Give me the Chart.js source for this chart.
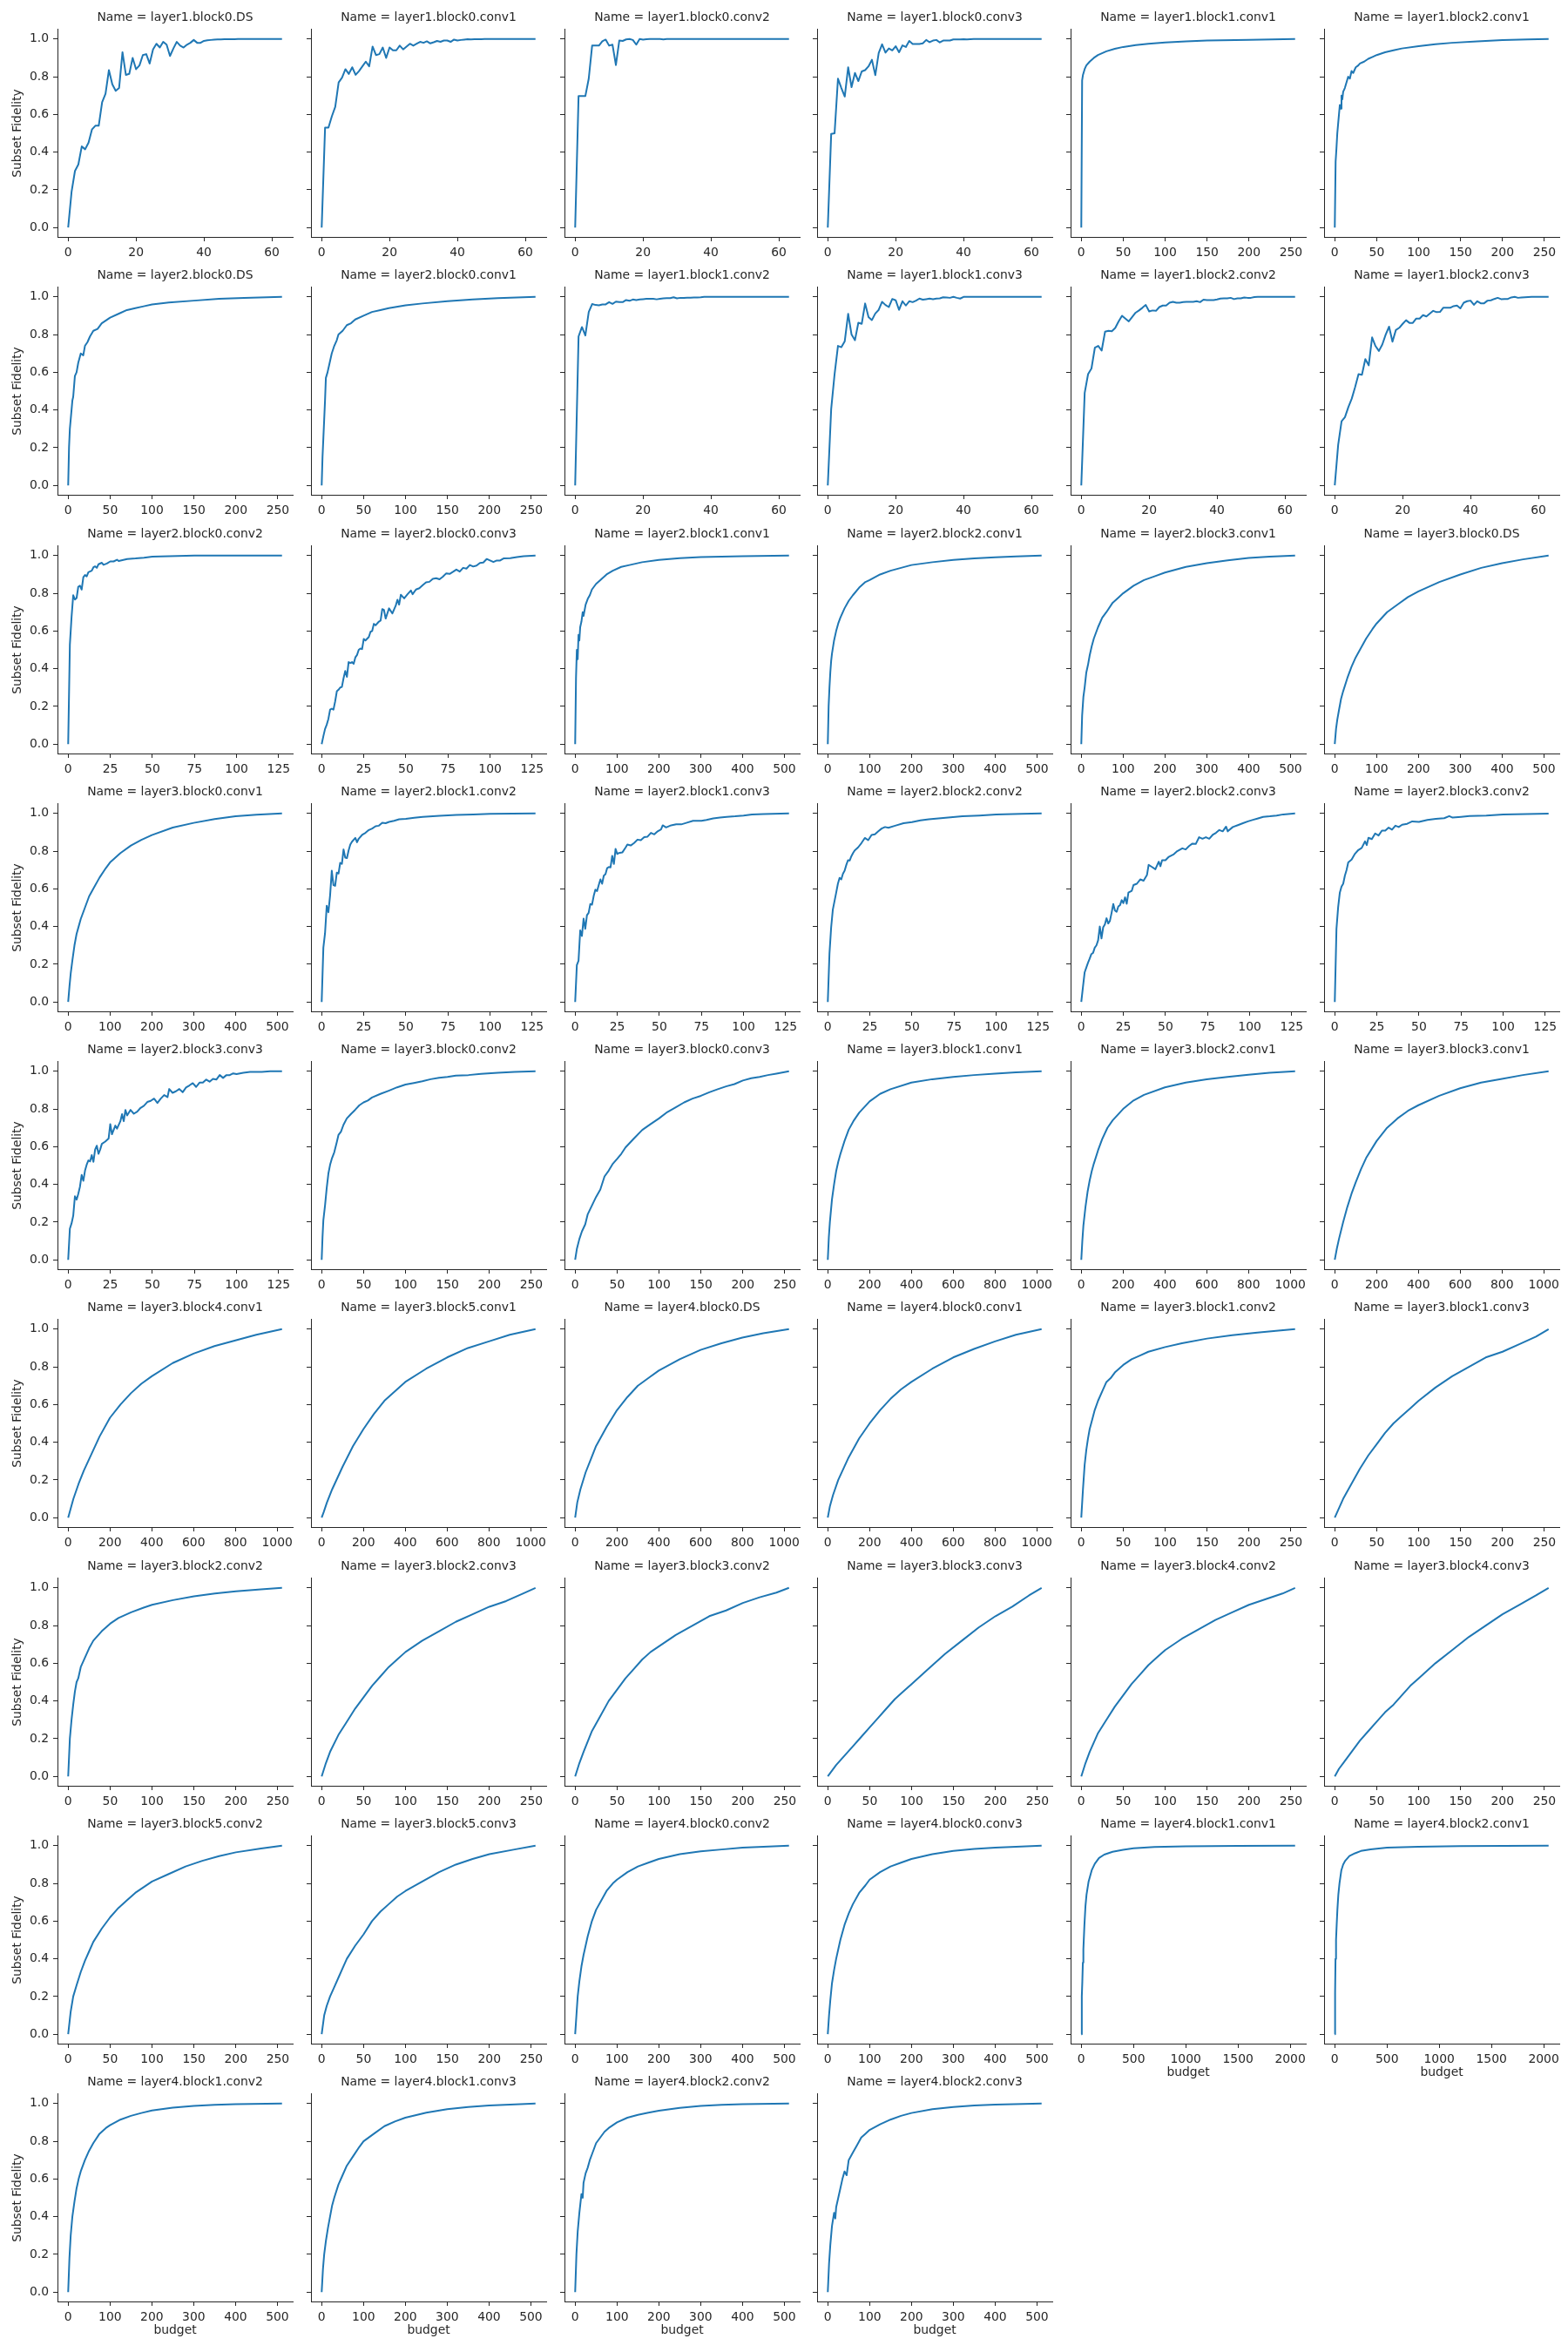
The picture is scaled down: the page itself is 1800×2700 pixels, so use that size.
<!DOCTYPE html>
<html>
<head>
<meta charset="utf-8">
<script src="https://cdn.jsdelivr.net/npm/chart.js@4.4.1/dist/chart.umd.min.js"></script>
<style>
  html, body { margin: 0; padding: 0; background: #fff; }
  #grid { position: relative; width: 1800px; height: 2700px; }
  #grid canvas { position: absolute; }
</style>
</head>
<body>
<div id="grid"></div>
<script>
// facet titles, in the order they appear (6 per row)
const panelNames = [
  "layer1.block0.DS", "layer1.block0.conv1", "layer1.block0.conv2", "layer1.block0.conv3", "layer1.block1.conv1", "layer1.block2.conv1",
  "layer2.block0.DS", "layer2.block0.conv1", "layer1.block1.conv2", "layer1.block1.conv3", "layer1.block2.conv2", "layer1.block2.conv3",
  "layer2.block0.conv2", "layer2.block0.conv3", "layer2.block1.conv1", "layer2.block2.conv1", "layer2.block3.conv1", "layer3.block0.DS",
  "layer3.block0.conv1", "layer2.block1.conv2", "layer2.block1.conv3", "layer2.block2.conv2", "layer2.block2.conv3", "layer2.block3.conv2",
  "layer2.block3.conv3", "layer3.block0.conv2", "layer3.block0.conv3", "layer3.block1.conv1", "layer3.block2.conv1", "layer3.block3.conv1",
  "layer3.block4.conv1", "layer3.block5.conv1", "layer4.block0.DS", "layer4.block0.conv1", "layer3.block1.conv2", "layer3.block1.conv3",
  "layer3.block2.conv2", "layer3.block2.conv3", "layer3.block3.conv2", "layer3.block3.conv3", "layer3.block4.conv2", "layer3.block4.conv3",
  "layer3.block5.conv2", "layer3.block5.conv3", "layer4.block0.conv2", "layer4.block0.conv3", "layer4.block1.conv1", "layer4.block2.conv1",
  "layer4.block1.conv2", "layer4.block1.conv3", "layer4.block2.conv2", "layer4.block2.conv3"
];

const yTicks = [0, 0.2, 0.4, 0.6, 0.8, 1.0];
const xTicks63 = [0, 20, 40, 60];
const xTicks127 = [0, 25, 50, 75, 100, 125];
const xTicks255 = [0, 50, 100, 150, 200, 250];
const xTicks511 = [0, 100, 200, 300, 400, 500];
const xTicks1023 = [0, 200, 400, 600, 800, 1000];
const xTicks2047 = [0, 500, 1000, 1500, 2000];

// small panels (budget 0..63): one fidelity value per budget step
// bigger panels: [budget, fidelity] pairs
const panelCurves = [
  // layer1.block0.DS
  [0,0.19,0.30,0.335,0.43,0.415,0.45,0.52,0.54,0.54, 0.665,0.71,0.835,0.76,0.725,0.74,0.93,0.81,0.815,0.90,
   0.84,0.86,0.915,0.92,0.87,0.945,0.975,0.955,0.985,0.97, 0.91,0.95,0.985,0.965,0.955,0.97,0.98,0.995,0.98,0.98,
   0.99,0.993,0.995,0.997,0.998,0.998,0.999,0.999,0.999,0.999, 1,1,1,1,1,1,1,1,1,1, 1,1,1,1],
  // layer1.block0.conv1
  [0,0.53,0.53,0.59,0.64,0.77,0.795,0.84,0.815,0.85, 0.81,0.83,0.855,0.88,0.855,0.96,0.915,0.92,0.955,0.90,
   0.955,0.94,0.94,0.965,0.945,0.96,0.975,0.965,0.975,0.985, 0.98,0.988,0.977,0.983,0.99,0.985,0.992,0.992,0.985,0.997,
   0.992,0.995,0.997,0.999,0.998,0.999,0.999,0.999,1,1, 1,1,1,1,1,1,1,1,1,1, 1,1,1,1],
  // layer1.block0.conv2
  [0,0.697,0.697,0.697,0.79,0.965,0.965,0.965,0.988,0.997, 0.965,0.97,0.862,0.992,0.99,0.998,1,0.995,0.97,1,
   0.997,0.999,1,1,1,1,0.998,1,1,1, 1,1,1,1,1,1,1,1,1,1, 1,1,1,1,1,1,1,1,1,1, 1,1,1,1,1,1,1,1,1,1, 1,1,1,1],
  // layer1.block0.conv3
  [0,0.497,0.50,0.79,0.74,0.695,0.85,0.745,0.82,0.777, 0.828,0.835,0.855,0.89,0.808,0.926,0.972,0.928,0.95,0.94,
   0.962,0.93,0.966,0.958,0.99,0.974,0.974,0.974,0.977,0.995, 0.983,0.992,0.995,0.982,0.992,0.992,0.992,0.998,0.998,0.998,
   0.999,0.998,0.999,1,1,1,1,1,1,1, 1,1,1,1,1,1,1,1,1,1, 1,1,1,1],
  // layer1.block1.conv1
  [[0,0],[1,0.78],[2,0.81],[4,0.84],[6,0.86],[10,0.88],[15,0.9],[20,0.915],[30,0.935],[40,0.948],[50,0.958],[65,0.968],
   [80,0.975],[100,0.982],[125,0.988],[150,0.992],[200,0.996],[255,1]],
  // layer1.block2.conv1
  [[0,0],[1,0.35],[2,0.42],[3,0.5],[4,0.55],[5,0.6],[6,0.65],[7,0.63],[8,0.7],[9,0.68],[10,0.72],[12,0.74],[14,0.77],
   [16,0.8],[18,0.79],[20,0.83],[22,0.82],[25,0.85],[28,0.86],[30,0.87],[35,0.88],[40,0.895],[45,0.905],[50,0.915],
   [60,0.93],[70,0.94],[80,0.95],[100,0.962],[120,0.972],[140,0.98],[170,0.988],[200,0.994],[230,0.998],[255,1]],
  // layer2.block0.DS
  [[0,0],[1,0.2],[2,0.3],[3,0.35],[5,0.45],[6,0.47],[8,0.58],[10,0.6],[12,0.65],[15,0.7],[18,0.69],[20,0.74],[23,0.76],
   [26,0.79],[30,0.82],[35,0.83],[40,0.86],[45,0.875],[50,0.89],[60,0.91],[70,0.93],[80,0.94],[90,0.95],[100,0.96],
   [120,0.97],[150,0.98],[180,0.99],[210,0.995],[255,1]],
  // layer2.block0.conv1
  [[0,0],[1,0.15],[2,0.25],[3,0.35],[4,0.45],[5,0.57],[7,0.6],[9,0.64],[12,0.7],[15,0.74],[18,0.77],[20,0.8],[25,0.82],
   [30,0.85],[35,0.86],[40,0.88],[50,0.9],[60,0.92],[70,0.93],[80,0.94],[100,0.955],[120,0.965],[150,0.977],[180,0.986],
   [210,0.993],[255,1]],
  // layer1.block1.conv2
  [0,0.79,0.84,0.795,0.92,0.962,0.957,0.955,0.96,0.96, 0.972,0.963,0.975,0.972,0.972,0.983,0.979,0.986,0.983,0.986,
   0.988,0.99,0.99,0.99,0.987,0.99,0.992,0.993,0.993,0.998, 0.992,0.995,0.995,0.996,0.996,0.997,0.997,0.998,1,1,
   1,1,1,1,1,1,1,1,1,1, 1,1,1,1,1,1,1,1,1,1, 1,1,1,1],
  // layer1.block1.conv3
  [0,0.405,0.59,0.74,0.733,0.765,0.91,0.80,0.77,0.863, 0.857,0.965,0.893,0.877,0.912,0.931,0.974,0.957,0.946,0.989,
   0.982,0.931,0.977,0.954,0.977,0.972,0.98,0.991,0.985,0.988, 0.991,0.988,0.991,0.992,0.998,0.997,0.995,1,0.995,0.991,
   1,1,1,1,1,1,1,1,1,1, 1,1,1,1,1,1,1,1,1,1, 1,1,1,1],
  // layer1.block2.conv2
  [0,0.49,0.59,0.62,0.73,0.74,0.715,0.815,0.82,0.818, 0.835,0.87,0.90,0.885,0.87,0.893,0.916,0.928,0.942,0.957,
   0.923,0.928,0.926,0.946,0.954,0.954,0.969,0.974,0.969,0.969, 0.972,0.974,0.974,0.974,0.977,0.972,0.985,0.983,0.983,0.983,
   0.986,0.991,0.992,0.992,0.995,0.988,0.992,0.992,0.997,0.995, 0.995,0.999,1,1,1,1,1,1,1,1, 1,1,1,1],
  // layer1.block2.conv3
  [0,0.215,0.34,0.362,0.415,0.46,0.522,0.59,0.587,0.67, 0.637,0.785,0.739,0.713,0.747,0.80,0.842,0.762,0.824,0.836,
   0.857,0.876,0.862,0.862,0.885,0.885,0.903,0.896,0.911,0.926, 0.919,0.92,0.943,0.942,0.942,0.951,0.954,0.939,0.969,0.977,
   0.98,0.958,0.977,0.966,0.966,0.98,0.982,0.989,0.995,0.988, 0.989,0.989,0.997,1,0.995,0.997,0.998,0.999,1,1, 1,1,1,1],
  // layer2.block0.conv2
  [[0,0],[1,0.527],[2,0.674],[3,0.79],[4,0.767],[5,0.775],[6,0.835],[7,0.84],[8,0.82],[9,0.885],[10,0.897],[11,0.89],
   [12,0.912],[14,0.92],[15,0.938],[16,0.943],[17,0.935],[18,0.954],[20,0.962],[21,0.951],[23,0.958],[25,0.969],[27,0.969],
   [29,0.978],[30,0.971],[35,0.982],[40,0.985],[45,0.989],[50,0.994],[60,0.997],[75,1],[90,1],[127,1]],
  // layer2.block0.conv3
  [[0,0],[1,0.042],[2,0.08],[3,0.103],[4,0.134],[5,0.183],[6,0.188],[7,0.183],[8,0.226],[9,0.28],[10,0.288],[11,0.3],
   [12,0.303],[13,0.35],[14,0.388],[15,0.357],[16,0.435],[17,0.43],[18,0.435],[19,0.426],[20,0.46],[21,0.473],[22,0.5],
   [23,0.507],[24,0.504],[25,0.558],[26,0.55],[28,0.568],[29,0.596],[30,0.6],[31,0.638],[32,0.63],[34,0.65],[35,0.655],
   [36,0.716],[37,0.712],[38,0.666],[39,0.693],[40,0.72],[42,0.693],[44,0.735],[45,0.766],[46,0.74],[47,0.792],[49,0.773],
   [51,0.795],[53,0.815],[54,0.795],[56,0.82],[58,0.827],[60,0.843],[62,0.858],[64,0.861],[66,0.877],[68,0.88],[70,0.874],
   [72,0.888],[74,0.906],[76,0.903],[78,0.914],[80,0.926],[82,0.915],[84,0.935],[86,0.931],[88,0.95],[90,0.942],[92,0.947],
   [94,0.961],[96,0.963],[98,0.982],[100,0.974],[102,0.966],[104,0.974],[106,0.974],[108,0.985],[112,0.986],[116,0.992],
   [120,0.997],[127,1]],
  // layer2.block1.conv1
  [[0,0],[2,0.35],[4,0.5],[6,0.45],[8,0.58],[10,0.55],[12,0.62],[15,0.65],[18,0.7],[20,0.68],[25,0.74],[30,0.77],[35,0.79],
   [40,0.82],[50,0.85],[60,0.87],[75,0.9],[90,0.92],[110,0.94],[130,0.95],[160,0.965],[200,0.977],[250,0.986],[300,0.992],
   [400,0.997],[511,1]],
  // layer2.block2.conv1
  [[0,0],[2,0.2],[4,0.3],[6,0.38],[8,0.44],[10,0.48],[15,0.55],[20,0.6],[25,0.64],[30,0.67],[40,0.72],[50,0.76],[60,0.79],
   [75,0.83],[90,0.86],[100,0.87],[125,0.9],[150,0.92],[175,0.935],[200,0.95],[250,0.965],[300,0.977],[350,0.985],
   [400,0.991],[450,0.996],[511,1]],
  // layer2.block3.conv1
  [[0,0],[2,0.15],[5,0.25],[8,0.3],[12,0.38],[16,0.42],[20,0.47],[25,0.52],[30,0.56],[40,0.62],[50,0.67],[60,0.7],[75,0.75],
   [90,0.78],[100,0.8],[125,0.84],[150,0.87],[175,0.89],[200,0.91],[250,0.94],[300,0.96],[350,0.975],[400,0.987],
   [450,0.994],[511,1]],
  // layer3.block0.DS
  [[0,0],[3,0.08],[6,0.13],[10,0.18],[15,0.24],[20,0.28],[30,0.35],[40,0.41],[50,0.46],[60,0.5],[75,0.56],[90,0.61],
   [100,0.64],[125,0.7],[150,0.74],[175,0.78],[200,0.81],[250,0.86],[300,0.9],[350,0.935],[400,0.96],[450,0.98],[511,1]],
  // layer3.block0.conv1
  [[0,0],[3,0.08],[6,0.15],[10,0.22],[15,0.3],[20,0.36],[25,0.4],[30,0.44],[40,0.5],[50,0.56],[60,0.6],[75,0.66],[90,0.71],
   [100,0.74],[125,0.79],[150,0.83],[175,0.86],[200,0.885],[250,0.925],[300,0.95],[350,0.97],[400,0.985],[450,0.993],[511,1]],
  // layer2.block1.conv2
  [[0,0],[1,0.288],[2,0.365],[3,0.51],[4,0.476],[5,0.565],[6,0.696],[7,0.62],[8,0.616],[9,0.686],[10,0.681],[11,0.738],
   [12,0.732],[13,0.809],[14,0.766],[15,0.763],[16,0.804],[17,0.835],[18,0.85],[20,0.87],[21,0.847],[22,0.866],[24,0.886],
   [26,0.897],[28,0.912],[30,0.92],[32,0.932],[34,0.935],[36,0.951],[38,0.948],[40,0.955],[43,0.961],[46,0.969],[50,0.971],
   [55,0.977],[60,0.982],[70,0.988],[80,0.992],[90,0.995],[100,0.998],[127,1]],
  // layer2.block1.conv3
  [[0,0],[1,0.196],[2,0.219],[3,0.38],[4,0.35],[5,0.442],[6,0.388],[7,0.46],[8,0.473],[9,0.52],[10,0.516],[11,0.562],
   [12,0.596],[13,0.588],[14,0.62],[15,0.65],[16,0.627],[17,0.67],[18,0.678],[19,0.71],[20,0.716],[21,0.714],[22,0.775],
   [23,0.732],[24,0.812],[25,0.785],[26,0.79],[28,0.793],[30,0.82],[31,0.835],[33,0.83],[35,0.843],[37,0.861],[39,0.858],
   [41,0.874],[43,0.877],[45,0.897],[47,0.889],[49,0.905],[51,0.915],[52,0.937],[54,0.926],[57,0.937],[60,0.942],[63,0.942],
   [66,0.95],[70,0.961],[75,0.961],[78,0.966],[82,0.974],[86,0.978],[90,0.982],[95,0.985],[100,0.989],[105,0.994],
   [112,0.997],[127,1]],
  // layer2.block2.conv2
  [[0,0],[1,0.257],[2,0.396],[3,0.49],[4,0.535],[5,0.58],[6,0.627],[7,0.658],[8,0.65],[9,0.68],[10,0.696],[11,0.727],
   [12,0.752],[13,0.75],[14,0.773],[15,0.79],[16,0.804],[18,0.82],[20,0.843],[22,0.87],[24,0.858],[26,0.886],[28,0.889],
   [30,0.905],[32,0.92],[34,0.928],[36,0.924],[40,0.935],[45,0.948],[50,0.954],[55,0.963],[60,0.969],[70,0.977],[80,0.985],
   [90,0.989],[100,0.994],[115,0.998],[127,1]],
  // layer2.block2.conv3
  [[0,0],[1,0.08],[2,0.157],[3,0.183],[4,0.208],[5,0.23],[6,0.254],[7,0.26],[8,0.288],[9,0.3],[10,0.327],[11,0.4],
   [12,0.337],[13,0.396],[14,0.411],[15,0.444],[16,0.416],[17,0.43],[18,0.473],[19,0.52],[20,0.485],[21,0.478],[22,0.507],
   [23,0.513],[24,0.54],[25,0.524],[26,0.555],[27,0.521],[28,0.58],[30,0.59],[31,0.62],[33,0.627],[35,0.65],[37,0.643],
   [39,0.673],[40,0.727],[42,0.716],[44,0.704],[46,0.744],[47,0.72],[48,0.752],[50,0.752],[52,0.77],[55,0.784],[57,0.8],
   [60,0.815],[62,0.809],[64,0.827],[66,0.84],[68,0.838],[70,0.874],[72,0.866],[74,0.874],[76,0.866],[78,0.886],[80,0.897],
   [82,0.912],[84,0.905],[86,0.93],[87,0.905],[90,0.928],[93,0.938],[96,0.948],[99,0.958],[102,0.966],[105,0.974],
   [108,0.982],[112,0.985],[116,0.989],[120,0.995],[127,1]],
  // layer2.block3.conv2
  [[0,0],[1,0.388],[2,0.503],[3,0.58],[4,0.612],[5,0.627],[6,0.67],[7,0.7],[8,0.74],[10,0.755],[12,0.786],[14,0.806],
   [16,0.817],[18,0.852],[19,0.832],[20,0.871],[22,0.864],[24,0.894],[26,0.883],[28,0.909],[30,0.909],[32,0.925],[34,0.914],
   [36,0.935],[38,0.928],[40,0.94],[43,0.945],[46,0.958],[50,0.955],[55,0.966],[60,0.971],[65,0.975],[68,0.986],[70,0.978],
   [75,0.982],[80,0.986],[90,0.989],[100,0.994],[127,0.999]],
  // layer2.block3.conv3
  [[0,0],[1,0.165],[2,0.193],[3,0.234],[4,0.337],[5,0.319],[6,0.35],[7,0.388],[8,0.45],[9,0.419],[10,0.473],[11,0.505],
   [12,0.527],[13,0.522],[14,0.555],[15,0.52],[16,0.585],[17,0.605],[18,0.562],[19,0.585],[20,0.615],[22,0.627],[24,0.643],
   [25,0.72],[26,0.666],[28,0.712],[29,0.696],[31,0.735],[32,0.773],[33,0.735],[34,0.795],[35,0.766],[37,0.795],[39,0.775],
   [41,0.786],[43,0.806],[45,0.817],[47,0.837],[49,0.843],[51,0.855],[53,0.832],[55,0.855],[57,0.874],[59,0.863],[60,0.906],
   [62,0.886],[64,0.894],[66,0.906],[68,0.889],[70,0.914],[72,0.925],[74,0.937],[76,0.917],[78,0.94],[80,0.94],[82,0.956],
   [84,0.945],[86,0.96],[88,0.956],[90,0.98],[92,0.965],[94,0.98],[96,0.98],[98,0.989],[100,0.985],[104,0.992],[108,0.997],
   [115,0.997],[120,1],[127,1]],
  // layer3.block0.conv2
  [[0,0],[1,0.12],[2,0.21],[4,0.288],[6,0.38],[8,0.457],[10,0.503],[12,0.535],[15,0.57],[18,0.624],[20,0.662],[23,0.68],
   [26,0.716],[30,0.75],[35,0.774],[40,0.796],[45,0.82],[50,0.835],[55,0.845],[60,0.861],[70,0.88],[80,0.897],[90,0.915],
   [100,0.93],[110,0.938],[120,0.947],[130,0.958],[140,0.966],[150,0.97],[160,0.977],[175,0.98],[190,0.986],[210,0.992],
   [230,0.997],[255,1]],
  // layer3.block0.conv3
  [[0,0],[2,0.057],[5,0.11],[8,0.15],[12,0.188],[15,0.242],[20,0.288],[25,0.334],[30,0.373],[35,0.442],[40,0.473],[45,0.51],
   [50,0.535],[55,0.562],[60,0.596],[70,0.643],[80,0.689],[90,0.72],[100,0.75],[110,0.784],[120,0.809],[130,0.835],
   [140,0.855],[150,0.87],[160,0.889],[170,0.905],[180,0.92],[190,0.932],[200,0.951],[210,0.963],[220,0.97],[230,0.98],
   [240,0.988],[255,1]],
  // layer3.block1.conv1
  [[0,0],[5,0.12],[10,0.2],[20,0.32],[30,0.4],[40,0.47],[50,0.52],[60,0.56],[80,0.63],[100,0.69],[125,0.74],[150,0.78],
   [200,0.84],[250,0.88],[300,0.905],[400,0.94],[500,0.958],[600,0.97],[700,0.98],[800,0.988],[900,0.995],[1023,1]],
  // layer3.block2.conv1
  [[0,0],[5,0.1],[10,0.18],[20,0.28],[30,0.36],[40,0.42],[50,0.47],[60,0.51],[80,0.58],[100,0.64],[125,0.7],[150,0.74],
   [200,0.8],[250,0.845],[300,0.875],[400,0.915],[500,0.94],[600,0.957],[700,0.97],[800,0.982],[900,0.992],[1023,1]],
  // layer3.block3.conv1
  [[0,0],[10,0.06],[20,0.11],[40,0.2],[60,0.28],[80,0.35],[100,0.41],[125,0.48],[150,0.54],[200,0.63],[250,0.7],[300,0.75],
   [350,0.79],[400,0.82],[500,0.87],[600,0.91],[700,0.94],[800,0.96],[900,0.98],[1023,1]],
  // layer3.block4.conv1
  [[0,0],[10,0.04],[25,0.1],[50,0.18],[75,0.25],[100,0.31],[150,0.43],[200,0.53],[250,0.6],[300,0.66],[350,0.71],[400,0.75],
   [500,0.82],[600,0.87],[700,0.91],[800,0.94],[900,0.97],[1023,1]],
  // layer3.block5.conv1
  [[0,0],[10,0.03],[25,0.08],[50,0.15],[75,0.21],[100,0.27],[150,0.38],[200,0.47],[250,0.55],[300,0.62],[350,0.67],[400,0.72],
   [500,0.79],[600,0.85],[700,0.9],[800,0.935],[900,0.97],[1023,1]],
  // layer4.block0.DS
  [[0,0],[10,0.08],[25,0.15],[50,0.24],[75,0.31],[100,0.38],[150,0.48],[200,0.57],[250,0.64],[300,0.7],[350,0.74],[400,0.78],
   [500,0.84],[600,0.89],[700,0.925],[800,0.955],[900,0.978],[1023,1]],
  // layer4.block0.conv1
  [[0,0],[10,0.06],[25,0.12],[50,0.2],[75,0.26],[100,0.32],[150,0.42],[200,0.5],[250,0.57],[300,0.63],[350,0.68],[400,0.72],
   [500,0.79],[600,0.85],[700,0.895],[800,0.935],[900,0.97],[1023,1]],
  // layer3.block1.conv2
  [[0,0],[2,0.15],[4,0.28],[6,0.36],[8,0.42],[10,0.47],[13,0.52],[16,0.57],[20,0.62],[25,0.67],[30,0.72],[35,0.74],[40,0.77],
   [50,0.81],[60,0.84],[70,0.86],[80,0.88],[100,0.905],[120,0.925],[150,0.95],[180,0.968],[210,0.982],[235,0.992],[255,1]],
  // layer3.block1.conv3
  [[0,0],[5,0.05],[10,0.1],[20,0.18],[30,0.26],[40,0.33],[50,0.39],[60,0.45],[70,0.5],[80,0.54],[90,0.58],[100,0.62],
   [120,0.69],[140,0.75],[160,0.8],[180,0.85],[200,0.88],[220,0.92],[240,0.96],[255,1]],
  // layer3.block2.conv2
  [[0,0],[2,0.2],[4,0.3],[6,0.38],[8,0.45],[10,0.5],[12,0.52],[15,0.58],[20,0.63],[25,0.68],[30,0.72],[40,0.77],[50,0.81],
   [60,0.84],[75,0.87],[90,0.895],[100,0.91],[125,0.935],[150,0.955],[175,0.97],[200,0.982],[230,0.992],[255,1]],
  // layer3.block2.conv3
  [[0,0],[5,0.07],[10,0.13],[20,0.22],[30,0.29],[40,0.36],[50,0.42],[60,0.48],[70,0.53],[80,0.58],[90,0.62],[100,0.66],
   [120,0.72],[140,0.77],[160,0.82],[180,0.86],[200,0.9],[220,0.93],[240,0.97],[255,1]],
  // layer3.block3.conv2
  [[0,0],[5,0.07],[10,0.13],[20,0.24],[30,0.32],[40,0.4],[50,0.46],[60,0.52],[70,0.57],[80,0.62],[90,0.66],[100,0.69],
   [120,0.75],[140,0.8],[160,0.85],[180,0.88],[200,0.92],[220,0.95],[240,0.975],[255,1]],
  // layer3.block3.conv3
  [[0,0],[5,0.03],[10,0.06],[20,0.11],[30,0.16],[40,0.21],[50,0.26],[60,0.31],[70,0.36],[80,0.41],[90,0.45],[100,0.49],
   [120,0.57],[140,0.65],[160,0.72],[180,0.79],[200,0.85],[220,0.9],[240,0.96],[255,1]],
  // layer3.block4.conv2
  [[0,0],[5,0.07],[10,0.13],[20,0.23],[30,0.3],[40,0.37],[50,0.43],[60,0.49],[70,0.54],[80,0.59],[90,0.63],[100,0.67],
   [120,0.73],[140,0.78],[160,0.83],[180,0.87],[200,0.91],[220,0.94],[240,0.97],[255,1]],
  // layer3.block4.conv3
  [[0,0],[5,0.04],[10,0.07],[20,0.13],[30,0.19],[40,0.24],[50,0.29],[60,0.34],[70,0.38],[80,0.43],[90,0.48],[100,0.52],
   [120,0.6],[140,0.67],[160,0.74],[180,0.8],[200,0.86],[220,0.91],[240,0.96],[255,1]],
  // layer3.block5.conv2
  [[0,0],[3,0.12],[6,0.2],[10,0.26],[15,0.33],[20,0.39],[25,0.44],[30,0.49],[40,0.56],[50,0.62],[60,0.67],[70,0.71],
   [80,0.75],[90,0.78],[100,0.81],[120,0.85],[140,0.89],[160,0.92],[180,0.945],[200,0.965],[230,0.985],[255,1]],
  // layer3.block5.conv3
  [[0,0],[3,0.1],[6,0.15],[10,0.2],[15,0.25],[20,0.3],[25,0.35],[30,0.4],[40,0.47],[50,0.53],[60,0.6],[70,0.65],[80,0.69],
   [90,0.73],[100,0.76],[120,0.81],[140,0.86],[160,0.9],[180,0.93],[200,0.955],[230,0.98],[255,1]],
  // layer4.block0.conv2
  [[0,0],[3,0.1],[6,0.2],[10,0.28],[15,0.36],[20,0.42],[25,0.47],[30,0.52],[40,0.6],[50,0.66],[60,0.7],[75,0.76],[90,0.8],
   [100,0.82],[125,0.86],[150,0.89],[175,0.91],[200,0.93],[250,0.955],[300,0.97],[350,0.98],[400,0.99],[450,0.995],[511,1]],
  // layer4.block0.conv3
  [[0,0],[3,0.1],[6,0.18],[10,0.27],[15,0.34],[20,0.4],[25,0.45],[30,0.5],[40,0.58],[50,0.64],[60,0.69],[75,0.75],[90,0.79],
   [100,0.82],[125,0.86],[150,0.89],[175,0.91],[200,0.93],[250,0.955],[300,0.972],[350,0.983],[400,0.99],[450,0.995],[511,1]],
  // layer4.block1.conv1
  [[0,0],[5,0.2],[10,0.28],[15,0.38],[20,0.45],[30,0.58],[40,0.68],[50,0.74],[70,0.81],[100,0.87],[130,0.905],[170,0.935],
   [220,0.953],[300,0.968],[400,0.978],[500,0.986],[700,0.993],[1000,0.997],[1500,0.999],[2047,1]],
  // layer4.block2.conv1
  [[0,0],[3,0.22],[7,0.4],[12,0.5],[19,0.59],[25,0.66],[34,0.74],[45,0.8],[63,0.87],[80,0.9],[100,0.92],[140,0.945],
   [194,0.96],[250,0.972],[343,0.981],[500,0.99],[800,0.995],[1200,0.998],[2047,1]],
  // layer4.block1.conv2
  [[0,0],[3,0.18],[6,0.3],[10,0.4],[15,0.48],[20,0.55],[25,0.6],[30,0.64],[40,0.7],[50,0.75],[60,0.79],[75,0.84],[90,0.87],
   [100,0.885],[125,0.915],[150,0.935],[175,0.95],[200,0.963],[250,0.978],[300,0.987],[350,0.993],[400,0.997],[511,1]],
  // layer4.block1.conv3
  [[0,0],[3,0.12],[6,0.2],[10,0.27],[15,0.34],[20,0.4],[25,0.46],[30,0.5],[40,0.57],[50,0.62],[60,0.67],[75,0.72],[90,0.77],
   [100,0.8],[125,0.84],[150,0.88],[175,0.905],[200,0.925],[250,0.952],[300,0.97],[350,0.982],[400,0.99],[450,0.995],[511,1]],
  // layer4.block2.conv2
  [[0,0],[3,0.2],[6,0.32],[10,0.42],[15,0.52],[18,0.5],[20,0.58],[25,0.63],[30,0.66],[35,0.7],[40,0.73],[45,0.76],[50,0.79],
   [60,0.82],[70,0.85],[80,0.87],[90,0.885],[100,0.9],[125,0.925],[150,0.94],[175,0.952],[200,0.962],[250,0.977],[300,0.987],
   [350,0.993],[400,0.997],[511,1]],
  // layer4.block2.conv3
  [[0,0],[3,0.15],[6,0.25],[10,0.35],[15,0.42],[18,0.39],[20,0.45],[25,0.5],[30,0.55],[35,0.6],[40,0.64],[45,0.62],[50,0.7],
   [60,0.74],[70,0.78],[80,0.82],[90,0.84],[100,0.86],[125,0.89],[150,0.915],[175,0.935],[200,0.95],[250,0.97],[300,0.982],
   [350,0.99],[400,0.995],[511,1]]
];

const tickSetByBudget = new Map([
  [63, xTicks63], [127, xTicks127], [255, xTicks255],
  [511, xTicks511], [1023, xTicks1023], [2047, xTicks2047]
]);

const COLS = 6;
const COL_W = 290.8, ROW_H = 296.25;
const AXIS_W = 66, PLOT_W = 270, PAD_R = 22;
const TITLE_H = 34, PLOT_H = 238, XAXIS_H = 46;
const INK = "#262626";

Chart.defaults.font.family = "'DejaVu Sans', sans-serif";
Chart.defaults.font.size = 13.9;
Chart.defaults.color = INK;

const grid = document.getElementById("grid");

panelNames.forEach(function (name, i) {
  const row = Math.floor(i / COLS), col = i % COLS;
  const raw = panelCurves[i];
  const points = typeof raw[0] === "number"
    ? raw.map(function (v, k) { return { x: k, y: v }; })
    : raw.map(function (p) { return { x: p[0], y: p[1] }; });
  const xMax = points[points.length - 1].x;
  const xTicks = tickSetByBudget.get(xMax);
  const isBottom = i + COLS >= panelNames.length;

  const canvas = document.createElement("canvas");
  canvas.width = AXIS_W + PLOT_W + PAD_R;
  canvas.height = TITLE_H + PLOT_H + XAXIS_H;
  canvas.style.left = Math.round(col * COL_W) + "px";
  canvas.style.top = Math.round(row * ROW_H) + "px";
  grid.appendChild(canvas);

  new Chart(canvas.getContext("2d"), {
    type: "line",
    data: {
      datasets: [{
        data: points,
        borderColor: "#1f77b4",
        borderWidth: 2,
        borderJoinStyle: "round",
        pointRadius: 0,
        tension: 0,
        fill: false
      }]
    },
    options: {
      responsive: false,
      animation: false,
      devicePixelRatio: 1,
      layout: { padding: { left: 0, right: PAD_R, top: 0, bottom: 0 } },
      plugins: {
        legend: { display: false },
        tooltip: { enabled: false },
        title: {
          display: true,
          text: "Name = " + name,
          fullSize: false,
          color: INK,
          font: { size: 13.9, weight: "normal" },
          padding: { top: 12.5, bottom: 4.8 }
        }
      },
      scales: {
        x: {
          type: "linear",
          min: -0.05 * xMax,
          max: 1.05 * xMax,
          afterBuildTicks: function (s) { s.ticks = xTicks.map(function (v) { return { value: v }; }); },
          afterFit: function (s) { s.height = XAXIS_H; },
          grid: { drawOnChartArea: false, drawTicks: true, tickLength: 5, color: INK, lineWidth: 1 },
          border: { display: true, color: INK, width: 1 },
          ticks: { padding: 5, autoSkip: false, maxRotation: 0, callback: function (v) { return String(v); } },
          title: { display: isBottom, text: "budget", padding: { top: 0, bottom: 4.6 } }
        },
        y: {
          min: -0.05,
          max: 1.05,
          afterBuildTicks: function (s) { s.ticks = yTicks.map(function (v) { return { value: v }; }); },
          afterFit: function (s) { s.width = AXIS_W; },
          grid: { drawOnChartArea: false, drawTicks: true, tickLength: 5, color: INK, lineWidth: 1 },
          border: { display: true, color: INK, width: 1 },
          ticks: { padding: 5, callback: function (v) { return col === 0 ? Number(v).toFixed(1) : ""; } },
          title: { display: col === 0, text: "Subset Fidelity", padding: { top: 11.7, bottom: 0 } }
        }
      }
    }
  });
});
</script>
</body>
</html>
